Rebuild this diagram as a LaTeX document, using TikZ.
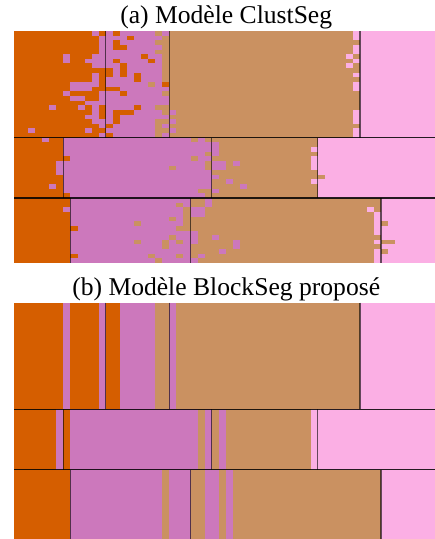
\documentclass[tikz,border=0pt]{standalone}
\usepackage{fontspec}
\setmainfont{Liberation Serif}
\usetikzlibrary{positioning}
\definecolor{cO}{HTML}{D55E00}
\definecolor{cP}{HTML}{CC78BC}
\definecolor{cT}{HTML}{CA9161}
\definecolor{cL}{HTML}{FBAFE4}
\newcommand{\cw}{7.06}
\newcommand{\rh}{4.64}
% franjas: #1 arriba, #2 filas, #3 ini/fin/color
\newcommand{\franjas}[3]{%
  \foreach \ini/\fin/\tono in {#3}
    \fill[c\tono] ({14+\ini*\cw},{#1}) rectangle ({14.4+(\fin+1)*\cw},{#1+#2*\rh});
}
% celdas sueltas: #1 arriba, #2 col/fila/color
\newcommand{\celdas}[2]{%
  \foreach \col/\fila/\tono in {#2}
    \fill[c\tono] ({14+\col*\cw},{#1+\fila*\rh}) rectangle ({14+(\col+1)*\cw},{#1+(\fila+1)*\rh});
}
% cortes verticales: #1 arriba, #2 filas, #3 columnas
\newcommand{\cortes}[3]{%
  \foreach \k in {#3}
    \draw[corte] ({14+\k*\cw},{#1}) -- ({14+\k*\cw},{#1+#2*\rh});
}

\begin{document}
\begin{tikzpicture}[x=1pt,y=-1pt,
  corte/.style={black,opacity=0.6,line width=1.4pt},
  linea/.style={black,opacity=0.85,line width=1.2pt},
  titulo/.style={font=\fontsize{25.6pt}{30pt}\selectfont,inner sep=0pt}]
 \useasboundingbox (0,0) rectangle (435,539);
 \clip (0,0) rectangle (435,539);

 % (a) ClustSeg
 \node[titulo,anchor=base] (tituloA) at (226.2,23.5) {(a) Modèle ClustSeg};

 \franjas{31}{23}{0/12/O,13/20/P,21/21/T,22/48/T,49/59/L}
 \celdas{31}{11/0/P,12/1/P,12/2/P,12/3/P,12/4/P,7/5/P,11/5/P,12/5/P,7/6/P,10/6/P,
   11/6/P,12/6/P,11/7/P,12/7/P,11/9/P,11/10/P,8/11/P,9/11/P,10/11/P,11/11/P,
   8/12/P,9/12/P,10/12/P,7/13/P,12/13/P,8/14/P,9/14/P,12/14/P,10/15/P,11/15/P,
   12/15/P,5/16/P,9/16/P,11/16/P,11/17/P,10/18/P,11/18/P,11/19/P,12/19/P,12/20/P,
   2/21/P,10/21/P,12/22/P,
   14/0/O,16/1/O,14/2/O,14/3/O,15/3/O,18/5/O,14/6/O,19/6/O,15/7/O,13/8/O,15/8/O,
   13/9/O,15/9/O,17/9/O,17/10/O,13/12/O,14/12/O,15/13/O,17/16/O,14/17/O,15/17/O,
   16/17/O,14/18/O,14/19/O,13/20/O,13/22/O,21/11/O,
   20/0/T,21/0/P,20/2/T,20/4/T,19/11/T,21/12/P,21/14/P,21/15/P,20/16/T,22/17/P,
   21/18/P,20/19/T,22/19/P,20/20/T,21/20/P,20/21/T,22/21/P,20/22/T,21/22/P,
   48/0/L,48/1/L,48/3/L,48/4/L,47/5/L,48/6/L,47/7/L,48/9/L,48/11/L,48/12/L,
   48/17/L,48/18/L,48/19/L,48/21/L,48/22/L}
 \cortes{31}{23}{13,22,49}

 \franjas{137.72}{13}{0/6/O,7/27/P,28/42/T,43/59/L}
 \celdas{137.72}{4/0/P,25/0/T,27/0/T,28/1/P,28/2/P,42/2/L,27/3/T,28/3/P,7/4/O,
   25/4/T,42/4/L,6/5/P,27/5/T,28/5/P,29/5/P,31/5/P,42/5/L,6/6/P,22/6/T,27/6/T,
   28/6/P,29/6/P,42/6/L,6/7/P,28/8/P,43/8/T,30/9/P,42/9/L,5/10/P,32/10/P,
   26/11/T,27/11/T,28/11/P,7/12/O,27/12/T}
 \cortes{137.72}{13}{7,28,43}

 \franjas{198.04}{14}{0/7/O,8/24/P,25/51/T,52/59/L}
 \celdas{198.04}{27/0/P,23/1/T,27/1/P,7/2/P,24/2/T,25/2/P,26/2/P,50/2/L,24/3/T,
   25/3/P,26/3/P,51/3/L,22/4/T,24/4/T,51/4/L,17/5/T,24/5/T,51/5/L,52/5/T,8/6/O,
   23/6/T,24/6/T,51/6/L,25/7/P,51/7/L,22/8/T,25/8/P,28/8/P,17/9/T,21/9/T,23/9/T,
   25/9/P,31/9/P,51/9/L,52/9/T,53/9/T,21/10/T,31/10/P,29/11/P,51/11/L,52/11/T,
   8/12/O,19/12/T,23/12/T,26/12/P,51/12/L,20/13/T,25/13/P,51/13/L}
 \cortes{198.04}{14}{8,25,52}

 \draw[linea] (14,137.72) -- (437.6,137.72);
 \draw[linea] (14,198.04) -- (437.6,198.04);

 % (b) BlockSeg
 \node[titulo,anchor=base] (tituloB) at (226.2,295) {(b) Modèle BlockSeg proposé};

 \franjas{302.7}{23}{0/6/O,7/7/P,8/11/O,12/12/P,13/14/O,15/19/P,20/21/T,22/22/P,23/48/T,49/59/L}
 \cortes{302.7}{23}{13,22,49}

 \franjas{409.42}{13}{0/5/O,6/6/P,7/7/O,8/25/P,26/26/T,27/27/P,28/28/T,29/29/P,30/41/T,42/59/L}
 \cortes{409.42}{13}{7,28,43}

 \franjas{469.74}{15}{0/7/O,8/20/P,21/21/T,22/24/P,25/26/T,27/28/P,29/29/T,30/30/P,31/51/T,52/59/L}
 \cortes{469.74}{15}{8,25,52}

 \draw[linea] (14,409.42) -- (437.6,409.42);
 \draw[linea] (14,469.74) -- (437.6,469.74);
\end{tikzpicture}
\end{document}
